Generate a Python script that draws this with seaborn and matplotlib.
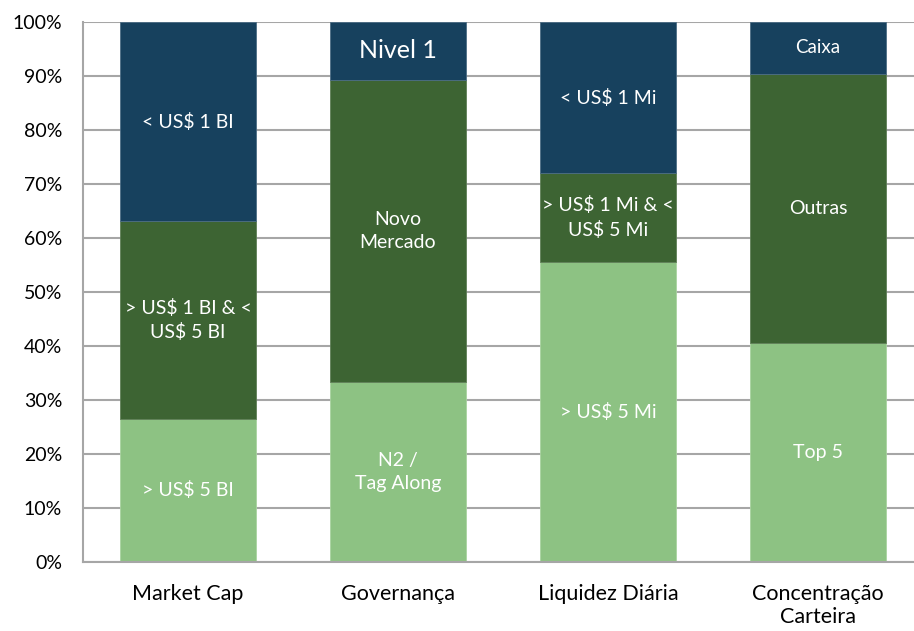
import seaborn as sns
import matplotlib.pyplot as plt
import pandas as pd

categories = ["Market Cap", "Governança", "Liquidez Diária", "Concentração\nCarteira"]

# percentual de cada faixa (de baixo para cima)
bottom_vals = [26.5, 33.4, 55.6, 40.6]
middle_vals = [36.6, 55.9, 16.4, 49.8]
top_vals = [36.9, 10.7, 28.0, 9.6]

bottom_labels = ["> US$ 5 BI", "N2 /\nTag Along", "> US$ 5 Mi", "Top 5"]
middle_labels = ["> US$ 1 BI & <\nUS$ 5 BI", "Novo\nMercado", "> US$ 1 Mi & <\nUS$ 5 Mi", "Outras"]
top_labels = ["< US$ 1 BI", "Nivel 1", "< US$ 1 Mi", "Caixa"]
top_sizes = [14, 18, 14, 13.5]

yticks = list(range(0, 101, 10))

c_light = "#8DC283"
c_dark = "#3D6433"
c_navy = "#17415E"

df = pd.DataFrame({
    "cat": categories,
    "low": bottom_vals,
    "mid": middle_vals,
    "top": top_vals,
})
df["mid_base"] = df["low"]
df["top_base"] = df["low"] + df["mid"]

sns.set_style("white")
plt.rcParams["font.family"] = ["Lato", "DejaVu Sans"]

fig = plt.figure(figsize=(9.14, 6.31), dpi=100)
ax = fig.add_axes([83 / 914, 69 / 631, 831 / 914, 540 / 631])

ax.set_axisbelow(True)
ax.grid(axis="y", color="#A6A6A6", linewidth=1.5)

w = 0.643
sns.barplot(data=df, x="cat", y="low", color=c_light, width=w, ax=ax,
            saturation=1, linewidth=0.6, edgecolor="#A9D3A0")
sns.barplot(data=df, x="cat", y="mid", bottom=df["mid_base"], color=c_dark,
            width=w, ax=ax, saturation=1, linewidth=0.6, edgecolor="#5F7F57")
sns.barplot(data=df, x="cat", y="top", bottom=df["top_base"], color=c_navy,
            width=w, ax=ax, saturation=1, linewidth=0.6, edgecolor="#4C6D85")

conts = ax.containers
for cont, labs in [(conts[0], bottom_labels), (conts[1], middle_labels)]:
    for rect, lab in zip(cont, labs):
        t = ax.text(rect.get_x() + rect.get_width() / 2, rect.get_y() + rect.get_height() / 2,
                    lab, ha="center", va="center", color="white", fontsize=14,
                    linespacing=1.45, multialignment="center")
        t.set_clip_path(rect)
for rect, lab, fs in zip(conts[2], top_labels, top_sizes):
    ax.text(rect.get_x() + rect.get_width() / 2, rect.get_y() + rect.get_height() / 2,
            lab, ha="center", va="center", color="white", fontsize=fs)

ax.set_xlim(-0.5, -0.5 + 831 / 210)
ax.set_ylim(0, 100)
ax.set_yticks(yticks)
ax.set_yticklabels([f"{v}%" for v in yticks])
ax.set_xlabel("")
ax.set_ylabel("")
ax.tick_params(axis="y", length=0, pad=15, labelsize=14, colors="black")
ax.tick_params(axis="x", length=0, pad=16, labelsize=15.5, colors="black")

for s in ["top", "right"]:
    ax.spines[s].set_visible(False)
for s in ["left", "bottom"]:
    ax.spines[s].set_color("#A6A6A6")
    ax.spines[s].set_linewidth(1.5)

plt.savefig("out.png", dpi=100)
plt.close()
